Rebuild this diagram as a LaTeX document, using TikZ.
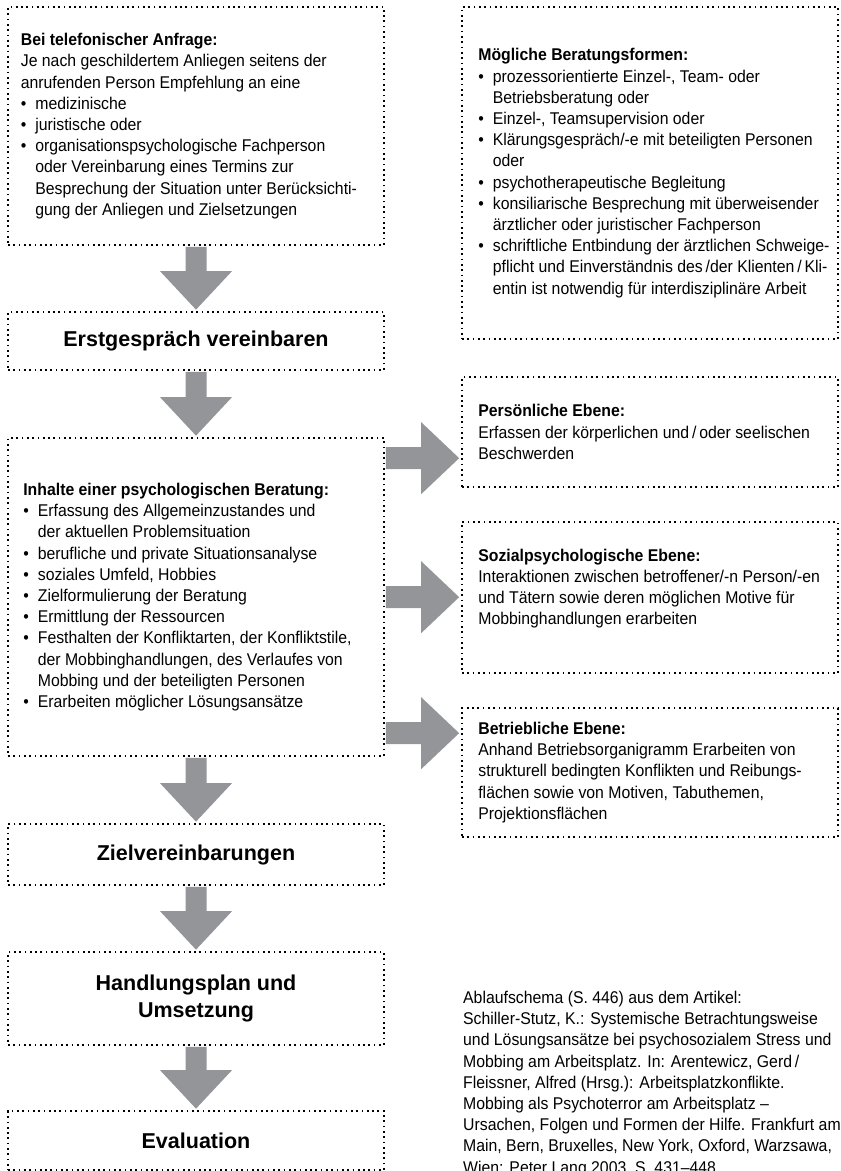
\documentclass[tikz,border=0pt]{standalone}
\usepackage{fontspec}
\setmainfont{Liberation Sans}
\newfontfamily\condfont{Liberation Sans}[FakeStretch=0.93]
\usetikzlibrary{calc}
\definecolor{arrowgrey}{RGB}{147,149,152}
\def\bul{\makebox[14.5pt][l]{\textbullet}}
\def\ind{\hspace*{14.5pt}}
\def\blockdown(#1)(#2){\fill[arrowgrey] ($(#1.south)+(-10.5,1)$) -- ($(#1.south)+(10.5,1)$) -- ($(#2.north)+(10.5,-40)$) -- ($(#2.north)+(36,-40)$) -- ($(#2.north)+(0,-1.5)$) -- ($(#2.north)+(-36,-40)$) -- ($(#2.north)+(-10.5,-40)$) -- cycle;}
\def\blockright(#1)(#2)(#3){\path ($(#1.north east)+(0,#2)$) coordinate (p) (p -| #3.west) coordinate (q);
	\fill[arrowgrey] ($(p)+(1,-11)$) -- ($(q)+(-40,-11)$) -- ($(q)+(-40,-36)$) -- ($(q)+(-2,0)$) -- ($(q)+(-40,36)$) -- ($(q)+(-40,11)$) -- ($(p)+(1,11)$) -- cycle;}

\begin{document}
\begin{tikzpicture}[x=1pt, y=-1pt,
	box/.style={draw, line width=1.7pt, dash pattern=on 1.7pt off 3.6pt, minimum width=376pt, inner sep=0pt},
	txt/.style={inner sep=0pt, align=left, font=\condfont\fontsize{17}{21.2}\selectfont},
	title/.style={align=center, font=\fontsize{21.5}{27}\selectfont\bfseries}]
			%%%%% START %%%%%
			\useasboundingbox (0,0) rectangle (841,1171);
			
			% left column
			\node[box, minimum height=238pt] (tel) at (196,126) {};
			\node[txt, anchor=west] (teltext) at ([xshift=13.5pt]tel.west) {{\bfseries Bei telefonischer Anfrage:}\\
				Je nach geschildertem Anliegen seitens der\\
				anrufenden Person Empfehlung an eine\\
				\bul medizinische\\
				\bul juristische oder\\
				\bul organisationspsychologische Fachperson\\
				\ind oder Vereinbarung eines Termins zur\\
				\ind Besprechung der Situation unter Berücksichti-\\
				\ind gung der Anliegen und Zielsetzungen};
			
			\node[box, title, minimum height=58pt] (erst) at (196,341) {Erstgespräch vereinbaren};
			
			\node[box, minimum height=318pt] (inhalte) at (196,597) {};
			\node[txt, anchor=west] (inhaltetext) at ([xshift=16pt]inhalte.west) {{\bfseries Inhalte einer psychologischen Beratung:}\\
				\bul Erfassung des Allgemeinzustandes und\\
				\ind der aktuellen Problemsituation\\
				\bul berufliche und private Situationsanalyse\\
				\bul soziales Umfeld, Hobbies\\
				\bul Zielformulierung der Beratung\\
				\bul Ermittlung der Ressourcen\\
				\bul Festhalten der Konfliktarten, der Konfliktstile,\\
				\ind der Mobbinghandlungen, des Verlaufes von\\
				\ind Mobbing und der beteiligten Personen\\
				\bul Erarbeiten möglicher Lösungsansätze};
			
			\node[box, title, minimum height=61pt] (ziel) at (196,854.5) {Zielvereinbarungen};
			\node[box, title, minimum height=93pt] (handlung) at (196,998.5) {Handlungsplan und\\Umsetzung};
			\node[box, title, minimum height=59pt] (eval) at (196,1140.5) {Evaluation};
			
			% right column
			\node[box, minimum height=332pt] (formen) at (650,173) {};
			\node[txt, anchor=west] (formentext) at ([xshift=17pt]formen.west) {{\bfseries Mögliche Beratungsformen:}\\
				\bul prozessorientierte Einzel-, Team- oder\\
				\ind Betriebsberatung oder\\
				\bul Einzel-, Teamsupervision oder\\
				\bul Klärungsgespräch/-e mit beteiligten Personen\\
				\ind oder\\
				\bul psychotherapeutische Begleitung\\
				\bul konsiliarische Besprechung mit überweisender\\
				\ind ärztlicher oder juristischer Fachperson\\
				\bul schriftliche Entbindung der ärztlichen Schweige-\\
				\ind pflicht und Einverständnis des\,/der Klienten\,/\,Kli-\\
				\ind entin ist notwendig für interdisziplinäre Arbeit};
			
			\node[box, minimum height=110pt] (person) at (650,432) {};
			\node[txt, anchor=west] (persontext) at ([xshift=17pt]person.west) {{\bfseries Persönliche Ebene:}\\
				Erfassen der körperlichen und\,/\,oder seelischen\\
				Beschwerden};
			
			\node[box, minimum height=151pt] (sozial) at (650,597.5) {};
			\node[txt, anchor=west] (sozialtext) at ([xshift=17pt, yshift=9pt]sozial.west) {{\bfseries Sozialpsychologische Ebene:}\\
				Interaktionen zwischen betroffener/-n Person/-en\\
				und Tätern sowie deren möglichen Motive für\\
				Mobbinghandlungen erarbeiten};
			
			\node[box, minimum height=129pt] (betrieb) at (650,772.5) {};
			\node[txt, anchor=west] (betriebtext) at ([xshift=17pt]betrieb.west) {{\bfseries Betriebliche Ebene:}\\
				Anhand Betriebsorganigramm Erarbeiten von\\
				strukturell bedingten Konflikten und Reibungs-\\
				flächen sowie von Motiven, Tabuthemen,\\
				Projektionsflächen};
			
			\node[txt, anchor=north west] (quelle) at (463,991) {Ablaufschema (S. 446) aus dem Artikel:\\
				Schiller-Stutz, K.: Systemische Betrachtungsweise\\
				und Lösungsansätze bei psychosozialem Stress und\\
				Mobbing am Arbeitsplatz. In: Arentewicz, Gerd\,/\\
				Fleissner, Alfred (Hrsg.): Arbeitsplatzkonflikte.\\
				Mobbing als Psychoterror am Arbeitsplatz –\\
				Ursachen, Folgen und Formen der Hilfe. Frankfurt am\\
				Main, Bern, Bruxelles, New York, Oxford, Warzsawa,\\
				Wien: Peter Lang 2003, S. 431–448};
			
			% arrows
			\blockdown(tel)(erst)
			\blockdown(erst)(inhalte)
			\blockdown(inhalte)(ziel)
			\blockdown(ziel)(handlung)
			\blockdown(handlung)(eval)
			
			\blockright(inhalte)(21)(person)
			\blockright(inhalte)(160)(sozial)
			\blockright(inhalte)(296)(betrieb)
			
			%%%%% END %%%%%
\end{tikzpicture}
\end{document}
